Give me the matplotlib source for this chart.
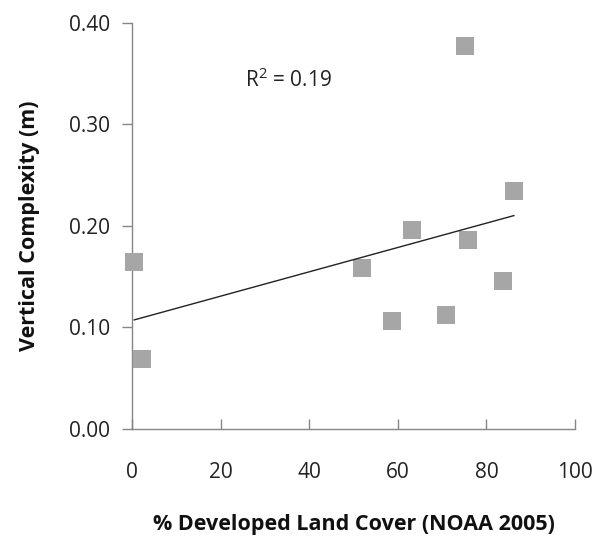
import numpy as np
import matplotlib
matplotlib.use("Agg")
import matplotlib.pyplot as plt

# Data
dev_cover = [0.5, 2.3, 51.9, 58.6, 63.3, 70.9, 75.2, 75.9, 83.7, 86.2]
vert_cplx = [0.165, 0.069, 0.159, 0.106, 0.196, 0.112, 0.377, 0.1865, 0.146, 0.234]
x_ticks = [0, 20, 40, 60, 80, 100]
y_ticks = [0.0, 0.1, 0.2, 0.3, 0.4]
r2_label = "R$^2$ = 0.19"

plt.rcParams['font.family'] = ['Open Sans', 'DejaVu Sans']
plt.rcParams['mathtext.fontset'] = 'custom'
plt.rcParams['mathtext.rm'] = 'Open Sans'

fig = plt.figure(figsize=(5.99, 5.40), dpi=100)
ax = fig.add_axes([0.2204, 0.2056, 0.7396, 0.7518])

gray = '#868686'
ax.scatter(dev_cover, vert_cplx, marker='s', s=13.5**2, color='#A6A6A6',
           linewidths=0, zorder=3, clip_on=False)

# linear trend line
slope, intercept = np.polyfit(dev_cover, vert_cplx, 1)
xs = np.array([min(dev_cover), max(dev_cover)])
ax.plot(xs, intercept + slope * xs, color='#222222', lw=1.0, zorder=4)

ax.set_xlim(0, 100)
ax.set_ylim(0, 0.40)
ax.set_xticks(x_ticks)
ax.set_yticks(y_ticks)
ax.set_yticklabels([f"{v:.2f}" for v in y_ticks])
ax.set_xticklabels([str(v) for v in x_ticks])

for s in ['top', 'right']:
    ax.spines[s].set_visible(False)
for s in ['left', 'bottom']:
    ax.spines[s].set_color(gray)
    ax.spines[s].set_linewidth(1.0)

ax.tick_params(axis='x', direction='in', length=7, width=1, color=gray,
               pad=24, labelsize=15, labelcolor='#222222')
ax.tick_params(axis='y', direction='out', length=7, width=1, color=gray,
               pad=9, labelsize=15, labelcolor='#222222')

ax.set_xlabel("% Developed Land Cover (NOAA 2005)", fontsize=15.5,
              fontweight='bold', labelpad=22, color='#111111')
ax.set_ylabel("Vertical Complexity (m)", fontsize=15.5, fontweight='bold',
              labelpad=21, color='#111111')

ax.text(0.255, 0.86, r2_label, transform=ax.transAxes, fontsize=15,
        color='#222222', ha='left', va='center')

fig.savefig("out.png", dpi=100)
